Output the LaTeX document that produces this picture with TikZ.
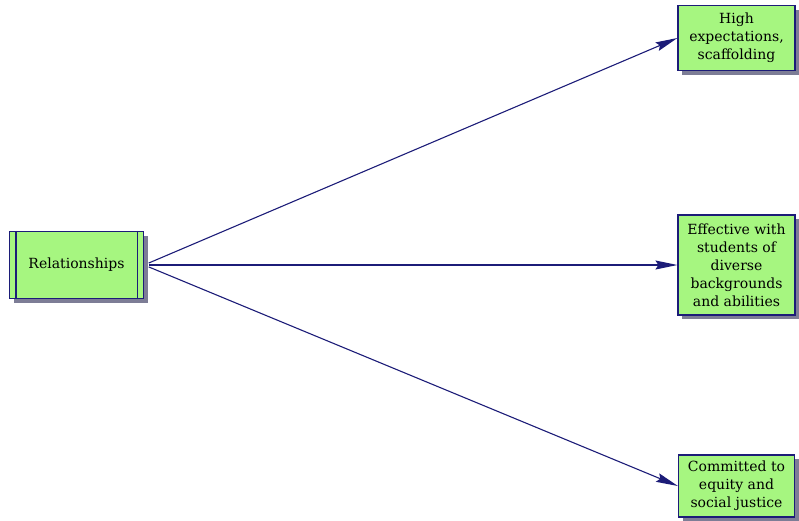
\documentclass[tikz,border=0pt]{standalone}
\usepackage{fontspec}
\setmainfont{DejaVu Serif}
\usetikzlibrary{arrows.meta,shadows}
\definecolor{boxfill}{RGB}{166,246,128}
\definecolor{navy}{RGB}{28,28,120}
\definecolor{shade}{RGB}{125,125,150}
\begin{document}
\begin{tikzpicture}[x=1pt,y=-1pt,
  box/.style={draw=navy, line width=1.2pt, fill=boxfill, align=center,
    font=\fontsize{14}{18}\selectfont, inner sep=0pt,
    drop shadow={shadow xshift=4pt, shadow yshift=-4pt, fill=shade, opacity=1}},
  conn/.style={navy, line width=1.1pt, -{Stealth[length=22pt,width=9pt,inset=3pt]}}]
\useasboundingbox (0,0) rectangle (799,520);
\node[box, minimum width=134pt, minimum height=67pt] (rel) at (76.5,265) {Relationships};
\draw[navy, line width=1.2pt] ([xshift=7pt]rel.north west) -- ([xshift=7pt]rel.south west);
\draw[navy, line width=1.2pt] ([xshift=-7pt]rel.north east) -- ([xshift=-7pt]rel.south east);
\node[box, minimum width=117pt, minimum height=65pt] (high) at (736.5,38) {High\\expectations,\\scaffolding};
\node[box, minimum width=117pt, minimum height=100pt] (eff) at (736.5,265) {Effective with\\students of\\diverse\\backgrounds\\and abilities};
\node[box, minimum width=116pt, minimum height=62pt] (comm) at (736.5,486) {Committed to\\equity and\\social justice};
\draw[conn, shorten <=5pt] (rel.east) -- (high.west);
\draw[conn, shorten <=5pt] (rel.east) -- (eff.west);
\draw[conn, shorten <=5pt] (rel.east) -- (comm.west);
\end{tikzpicture}
\end{document}
